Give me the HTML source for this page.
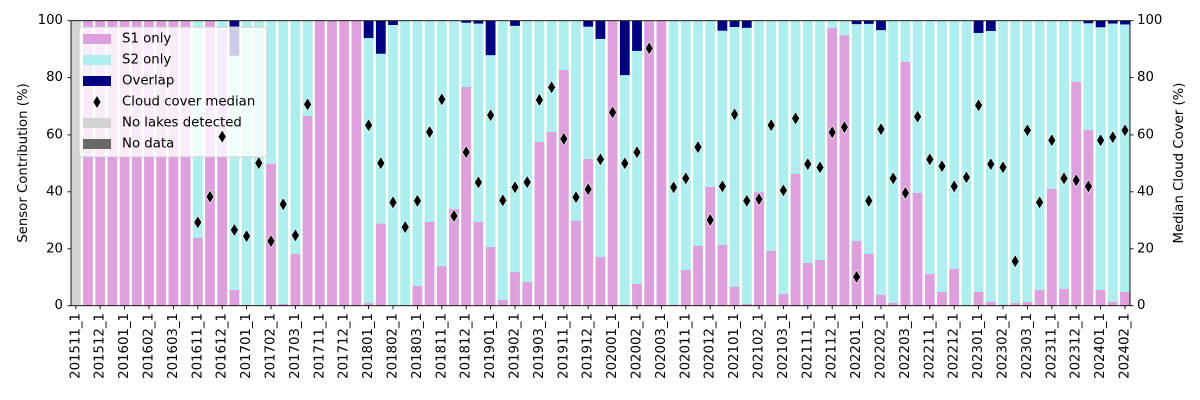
<!DOCTYPE html>
<html><head><meta charset="utf-8"><style>
html,body{margin:0;padding:0;background:#fff;}
svg{display:block;font-family:"DejaVu Sans","Liberation Sans",sans-serif;}
</style></head><body>
<svg width="1200" height="400" viewBox="0 0 1200 400" xmlns="http://www.w3.org/2000/svg">
<defs><path id="d" d="M0,-6.5L4,0L0,6.5L-4,0Z" fill="#000" stroke="#fff" stroke-width="0.6"/></defs>
<g transform="translate(0,305.7) scale(1,-2.847)">
<rect x="70.92" y="0" width="9.76" height="100" fill="#d3d3d3"/>
<g fill="#dda0dd">
<rect x="83.12" y="0" width="9.76" height="100"/><rect x="95.32" y="0" width="9.76" height="100"/><rect x="107.52" y="0" width="9.76" height="100"/><rect x="119.72" y="0" width="9.76" height="100"/><rect x="131.92" y="0" width="9.76" height="100"/><rect x="144.12" y="0" width="9.76" height="100"/><rect x="156.32" y="0" width="9.76" height="100"/><rect x="168.52" y="0" width="9.76" height="100"/><rect x="180.72" y="0" width="9.76" height="100"/><rect x="205.12" y="0" width="9.76" height="100"/><rect x="314.92" y="0" width="9.76" height="100"/><rect x="327.12" y="0" width="9.76" height="100"/><rect x="339.32" y="0" width="9.76" height="100"/><rect x="351.52" y="0" width="9.76" height="100"/><rect x="607.72" y="0" width="9.76" height="100"/><rect x="644.32" y="0" width="9.76" height="100"/><rect x="656.52" y="0" width="9.76" height="100"/>
</g>
<g fill="#afeeee">
<rect x="192.92" y="0" width="9.76" height="100"/><rect x="217.32" y="0" width="9.76" height="100"/><rect x="229.52" y="0" width="9.76" height="100"/><rect x="241.72" y="0" width="9.76" height="100"/><rect x="253.92" y="0" width="9.76" height="100"/><rect x="266.12" y="0" width="9.76" height="100"/><rect x="278.32" y="0" width="9.76" height="100"/><rect x="290.52" y="0" width="9.76" height="100"/><rect x="302.72" y="0" width="9.76" height="100"/>
<rect x="363.72" y="0" width="9.76" height="100"/><rect x="375.92" y="0" width="9.76" height="100"/><rect x="388.12" y="0" width="9.76" height="100"/><rect x="400.32" y="0" width="9.76" height="100"/><rect x="412.52" y="0" width="9.76" height="100"/><rect x="424.72" y="0" width="9.76" height="100"/><rect x="436.92" y="0" width="9.76" height="100"/><rect x="449.12" y="0" width="9.76" height="100"/><rect x="461.32" y="0" width="9.76" height="100"/><rect x="473.52" y="0" width="9.76" height="100"/><rect x="485.72" y="0" width="9.76" height="100"/><rect x="497.92" y="0" width="9.76" height="100"/><rect x="510.12" y="0" width="9.76" height="100"/><rect x="522.32" y="0" width="9.76" height="100"/><rect x="534.52" y="0" width="9.76" height="100"/><rect x="546.72" y="0" width="9.76" height="100"/><rect x="558.92" y="0" width="9.76" height="100"/><rect x="571.12" y="0" width="9.76" height="100"/><rect x="583.32" y="0" width="9.76" height="100"/><rect x="595.52" y="0" width="9.76" height="100"/><rect x="619.92" y="0" width="9.76" height="100"/><rect x="632.12" y="0" width="9.76" height="100"/>
<rect x="668.72" y="0" width="9.76" height="100"/><rect x="680.92" y="0" width="9.76" height="100"/><rect x="693.12" y="0" width="9.76" height="100"/><rect x="705.32" y="0" width="9.76" height="100"/><rect x="717.52" y="0" width="9.76" height="100"/><rect x="729.72" y="0" width="9.76" height="100"/><rect x="741.92" y="0" width="9.76" height="100"/><rect x="754.12" y="0" width="9.76" height="100"/><rect x="766.32" y="0" width="9.76" height="100"/><rect x="778.52" y="0" width="9.76" height="100"/><rect x="790.72" y="0" width="9.76" height="100"/><rect x="802.92" y="0" width="9.76" height="100"/><rect x="815.12" y="0" width="9.76" height="100"/><rect x="827.32" y="0" width="9.76" height="100"/><rect x="839.52" y="0" width="9.76" height="100"/><rect x="851.72" y="0" width="9.76" height="100"/><rect x="863.92" y="0" width="9.76" height="100"/><rect x="876.12" y="0" width="9.76" height="100"/><rect x="888.32" y="0" width="9.76" height="100"/><rect x="900.52" y="0" width="9.76" height="100"/><rect x="912.72" y="0" width="9.76" height="100"/><rect x="924.92" y="0" width="9.76" height="100"/><rect x="937.12" y="0" width="9.76" height="100"/><rect x="949.32" y="0" width="9.76" height="100"/><rect x="961.52" y="0" width="9.76" height="100"/><rect x="973.72" y="0" width="9.76" height="100"/><rect x="985.92" y="0" width="9.76" height="100"/><rect x="998.12" y="0" width="9.76" height="100"/><rect x="1010.32" y="0" width="9.76" height="100"/><rect x="1022.52" y="0" width="9.76" height="100"/><rect x="1034.72" y="0" width="9.76" height="100"/><rect x="1046.92" y="0" width="9.76" height="100"/><rect x="1059.12" y="0" width="9.76" height="100"/><rect x="1071.32" y="0" width="9.76" height="100"/><rect x="1083.52" y="0" width="9.76" height="100"/><rect x="1095.72" y="0" width="9.76" height="100"/><rect x="1107.92" y="0" width="9.76" height="100"/><rect x="1120.12" y="0" width="9.76" height="100"/>
</g>
<g fill="#dda0dd">
<rect x="192.92" y="0" width="9.76" height="23.8"/><rect x="217.32" y="0" width="9.76" height="97"/><rect x="229.52" y="0" width="9.76" height="5.5"/><rect x="241.72" y="0" width="9.76" height="0.3"/><rect x="266.12" y="0" width="9.76" height="49.8"/><rect x="278.32" y="0" width="9.76" height="0.6"/><rect x="290.52" y="0" width="9.76" height="18.2"/><rect x="302.72" y="0" width="9.76" height="66.6"/>
<rect x="363.72" y="0" width="9.76" height="0.9"/><rect x="375.92" y="0" width="9.76" height="28.8"/><rect x="400.32" y="0" width="9.76" height="0.2"/><rect x="412.52" y="0" width="9.76" height="6.9"/><rect x="424.72" y="0" width="9.76" height="29.4"/><rect x="436.92" y="0" width="9.76" height="13.9"/><rect x="449.12" y="0" width="9.76" height="34"/><rect x="461.32" y="0" width="9.76" height="76.8"/><rect x="473.52" y="0" width="9.76" height="29.4"/><rect x="485.72" y="0" width="9.76" height="20.6"/><rect x="497.92" y="0" width="9.76" height="2"/><rect x="510.12" y="0" width="9.76" height="11.8"/><rect x="522.32" y="0" width="9.76" height="8.3"/><rect x="534.52" y="0" width="9.76" height="57.5"/><rect x="546.72" y="0" width="9.76" height="61"/><rect x="558.92" y="0" width="9.76" height="82.8"/><rect x="571.12" y="0" width="9.76" height="29.8"/><rect x="583.32" y="0" width="9.76" height="51.5"/><rect x="595.52" y="0" width="9.76" height="17.1"/><rect x="619.92" y="0" width="9.76" height="0.3"/><rect x="632.12" y="0" width="9.76" height="7.6"/>
<rect x="668.72" y="0" width="9.76" height="0.3"/><rect x="680.92" y="0" width="9.76" height="12.5"/><rect x="693.12" y="0" width="9.76" height="21"/><rect x="705.32" y="0" width="9.76" height="41.7"/><rect x="717.52" y="0" width="9.76" height="21.3"/><rect x="729.72" y="0" width="9.76" height="6.6"/><rect x="741.92" y="0" width="9.76" height="0.6"/><rect x="754.12" y="0" width="9.76" height="39.9"/><rect x="766.32" y="0" width="9.76" height="19.2"/><rect x="778.52" y="0" width="9.76" height="4.1"/><rect x="790.72" y="0" width="9.76" height="46.3"/><rect x="802.92" y="0" width="9.76" height="15"/><rect x="815.12" y="0" width="9.76" height="16"/><rect x="827.32" y="0" width="9.76" height="97.5"/><rect x="839.52" y="0" width="9.76" height="95"/><rect x="851.72" y="0" width="9.76" height="22.7"/><rect x="863.92" y="0" width="9.76" height="18.2"/><rect x="876.12" y="0" width="9.76" height="3.8"/><rect x="888.32" y="0" width="9.76" height="1"/><rect x="900.52" y="0" width="9.76" height="85.6"/><rect x="912.72" y="0" width="9.76" height="39.6"/><rect x="924.92" y="0" width="9.76" height="11.1"/><rect x="937.12" y="0" width="9.76" height="4.8"/><rect x="949.32" y="0" width="9.76" height="12.9"/><rect x="973.72" y="0" width="9.76" height="4.8"/><rect x="985.92" y="0" width="9.76" height="1.3"/><rect x="998.12" y="0" width="9.76" height="0.3"/><rect x="1010.32" y="0" width="9.76" height="0.9"/><rect x="1022.52" y="0" width="9.76" height="1.3"/><rect x="1034.72" y="0" width="9.76" height="5.5"/><rect x="1046.92" y="0" width="9.76" height="41"/><rect x="1059.12" y="0" width="9.76" height="5.9"/><rect x="1071.32" y="0" width="9.76" height="78.6"/><rect x="1083.52" y="0" width="9.76" height="61.7"/><rect x="1095.72" y="0" width="9.76" height="5.5"/><rect x="1107.92" y="0" width="9.76" height="1.3"/><rect x="1120.12" y="0" width="9.76" height="4.8"/>
</g>
<g fill="#000080">
<rect x="229.52" y="87.8" width="9.76" height="12.2"/><rect x="363.72" y="94" width="9.76" height="6"/><rect x="375.92" y="88.5" width="9.76" height="11.5"/><rect x="388.12" y="98.6" width="9.76" height="1.4"/><rect x="461.32" y="99.4" width="9.76" height="0.6"/><rect x="473.52" y="99.1" width="9.76" height="0.9"/><rect x="485.72" y="88" width="9.76" height="12"/><rect x="510.12" y="98.3" width="9.76" height="1.7"/><rect x="583.32" y="98" width="9.76" height="2"/><rect x="595.52" y="93.7" width="9.76" height="6.3"/><rect x="619.92" y="81" width="9.76" height="19"/><rect x="632.12" y="89.5" width="9.76" height="10.5"/><rect x="717.52" y="96.6" width="9.76" height="3.4"/><rect x="729.72" y="97.9" width="9.76" height="2.1"/><rect x="741.92" y="97.6" width="9.76" height="2.4"/><rect x="851.72" y="98.9" width="9.76" height="1.1"/><rect x="863.92" y="99" width="9.76" height="1"/><rect x="876.12" y="96.8" width="9.76" height="3.2"/><rect x="973.72" y="95.8" width="9.76" height="4.2"/><rect x="985.92" y="96.5" width="9.76" height="3.5"/><rect x="1083.52" y="99.2" width="9.76" height="0.8"/><rect x="1095.72" y="97.8" width="9.76" height="2.2"/><rect x="1107.92" y="99.1" width="9.76" height="0.9"/><rect x="1120.12" y="98.8" width="9.76" height="1.2"/>
</g>
</g>
<!-- legend -->
<rect x="79" y="27" width="188" height="130" rx="3" fill="#fff" fill-opacity="0.8" stroke="#cccccc" stroke-width="1"/>
<rect x="83" y="34" width="28" height="10" fill="#dda0dd"/>
<rect x="83" y="55" width="28" height="10" fill="#afeeee"/>
<rect x="83" y="76" width="28" height="10" fill="#000080"/>
<use href="#d" x="97" y="102"/>
<rect x="83" y="118" width="28" height="10" fill="#d3d3d3"/>
<rect x="83" y="139" width="28" height="10" fill="#696969"/>
<g font-size="13.3" fill="#000" dominant-baseline="central">
<text x="122" y="39">S1 only</text><text x="122" y="60">S2 only</text><text x="122" y="81">Overlap</text><text x="122" y="102">Cloud cover median</text><text x="122" y="123">No lakes detected</text><text x="122" y="144">No data</text>
</g>
<!-- markers -->
<g>
<use href="#d" x="197.8" y="222.3"/><use href="#d" x="210" y="196.7"/><use href="#d" x="222.2" y="136.6"/><use href="#d" x="234.4" y="230"/><use href="#d" x="246.6" y="236.2"/><use href="#d" x="258.8" y="163.1"/><use href="#d" x="271" y="241.1"/><use href="#d" x="283.2" y="204.3"/><use href="#d" x="295.4" y="235.4"/><use href="#d" x="307.6" y="104.4"/>
<use href="#d" x="368.6" y="125.2"/><use href="#d" x="380.8" y="163.1"/><use href="#d" x="393" y="202.4"/><use href="#d" x="405.2" y="227.1"/><use href="#d" x="417.4" y="200.9"/><use href="#d" x="429.6" y="132"/><use href="#d" x="441.8" y="99.3"/><use href="#d" x="454" y="216"/><use href="#d" x="466.2" y="152.2"/><use href="#d" x="478.4" y="182.4"/><use href="#d" x="490.6" y="115.2"/><use href="#d" x="502.8" y="200.4"/><use href="#d" x="515" y="187.3"/><use href="#d" x="527.2" y="182.1"/><use href="#d" x="539.4" y="99.9"/><use href="#d" x="551.6" y="87.3"/><use href="#d" x="563.8" y="138.9"/><use href="#d" x="576" y="197.2"/><use href="#d" x="588.2" y="189.3"/><use href="#d" x="600.4" y="159.4"/><use href="#d" x="612.6" y="112.4"/><use href="#d" x="624.8" y="163.3"/><use href="#d" x="637" y="152.2"/><use href="#d" x="649.2" y="48.3"/>
<use href="#d" x="673.6" y="187.3"/><use href="#d" x="685.8" y="178.4"/><use href="#d" x="698" y="147.1"/><use href="#d" x="710.2" y="220"/><use href="#d" x="722.4" y="186.4"/><use href="#d" x="734.6" y="114.4"/><use href="#d" x="746.8" y="200.9"/><use href="#d" x="759" y="199.2"/><use href="#d" x="771.2" y="125.2"/><use href="#d" x="783.4" y="190.4"/><use href="#d" x="795.6" y="118.4"/><use href="#d" x="807.8" y="164.2"/><use href="#d" x="820" y="167.3"/><use href="#d" x="832.2" y="132.3"/><use href="#d" x="844.4" y="127.2"/><use href="#d" x="856.6" y="276.9"/><use href="#d" x="868.8" y="200.9"/><use href="#d" x="881" y="129.2"/><use href="#d" x="893.2" y="178.4"/><use href="#d" x="905.4" y="193"/><use href="#d" x="917.6" y="116.7"/><use href="#d" x="929.8" y="159.4"/><use href="#d" x="942" y="166.2"/><use href="#d" x="954.2" y="186.4"/><use href="#d" x="966.4" y="177.3"/><use href="#d" x="978.6" y="105.3"/><use href="#d" x="990.8" y="164.2"/><use href="#d" x="1003" y="167.3"/><use href="#d" x="1015.2" y="261.3"/><use href="#d" x="1027.4" y="130.3"/><use href="#d" x="1039.6" y="202.4"/><use href="#d" x="1051.8" y="140.3"/><use href="#d" x="1064" y="178.4"/><use href="#d" x="1076.2" y="180.4"/><use href="#d" x="1088.4" y="186.4"/><use href="#d" x="1100.6" y="140.3"/><use href="#d" x="1112.8" y="137.2"/><use href="#d" x="1125" y="130.3"/>
</g>
<!-- axes frame -->
<rect x="71" y="20.7" width="1059" height="285" fill="none" stroke="#000" stroke-width="0.9"/>
<!-- y ticks -->
<g stroke="#000" stroke-width="0.9">
<line x1="67.5" y1="305.7" x2="71" y2="305.7"/><line x1="67.5" y1="248.8" x2="71" y2="248.8"/><line x1="67.5" y1="191.8" x2="71" y2="191.8"/><line x1="67.5" y1="134.9" x2="71" y2="134.9"/><line x1="67.5" y1="77.6" x2="71" y2="77.6"/><line x1="67.5" y1="20.7" x2="71" y2="20.7"/>
<line x1="1130" y1="305.7" x2="1133.5" y2="305.7"/><line x1="1130" y1="248.8" x2="1133.5" y2="248.8"/><line x1="1130" y1="191.8" x2="1133.5" y2="191.8"/><line x1="1130" y1="134.9" x2="1133.5" y2="134.9"/><line x1="1130" y1="77.6" x2="1133.5" y2="77.6"/><line x1="1130" y1="20.7" x2="1133.5" y2="20.7"/>
</g>
<g font-size="13.3" fill="#000" dominant-baseline="central" text-anchor="end">
<text x="63" y="305.7">0</text><text x="63" y="248.8">20</text><text x="63" y="191.8">40</text><text x="63" y="134.9">60</text><text x="63" y="77.6">80</text><text x="63" y="20.7">100</text>
</g>
<g font-size="13.3" fill="#000" dominant-baseline="central" text-anchor="start">
<text x="1137" y="305.7">0</text><text x="1137" y="248.8">20</text><text x="1137" y="191.8">40</text><text x="1137" y="134.9">60</text><text x="1137" y="77.6">80</text><text x="1137" y="20.7">100</text>
</g>
<text font-size="13.3" text-anchor="middle" transform="translate(27,163) rotate(-90)">Sensor Contribution (%)</text>
<text font-size="13.3" text-anchor="middle" transform="translate(1183,163) rotate(-90)">Median Cloud Cover (%)</text>
<!-- x ticks -->
<g stroke="#000" stroke-width="0.9">
<line x1="75.8" y1="305.7" x2="75.8" y2="309.2"/><line x1="100.2" y1="305.7" x2="100.2" y2="309.2"/><line x1="124.6" y1="305.7" x2="124.6" y2="309.2"/><line x1="149" y1="305.7" x2="149" y2="309.2"/><line x1="173.4" y1="305.7" x2="173.4" y2="309.2"/><line x1="197.8" y1="305.7" x2="197.8" y2="309.2"/><line x1="222.2" y1="305.7" x2="222.2" y2="309.2"/><line x1="246.6" y1="305.7" x2="246.6" y2="309.2"/><line x1="271" y1="305.7" x2="271" y2="309.2"/><line x1="295.4" y1="305.7" x2="295.4" y2="309.2"/><line x1="319.8" y1="305.7" x2="319.8" y2="309.2"/><line x1="344.2" y1="305.7" x2="344.2" y2="309.2"/><line x1="368.6" y1="305.7" x2="368.6" y2="309.2"/><line x1="393" y1="305.7" x2="393" y2="309.2"/><line x1="417.4" y1="305.7" x2="417.4" y2="309.2"/><line x1="441.8" y1="305.7" x2="441.8" y2="309.2"/><line x1="466.2" y1="305.7" x2="466.2" y2="309.2"/><line x1="490.6" y1="305.7" x2="490.6" y2="309.2"/><line x1="515" y1="305.7" x2="515" y2="309.2"/><line x1="539.4" y1="305.7" x2="539.4" y2="309.2"/><line x1="563.8" y1="305.7" x2="563.8" y2="309.2"/><line x1="588.2" y1="305.7" x2="588.2" y2="309.2"/><line x1="612.6" y1="305.7" x2="612.6" y2="309.2"/><line x1="637" y1="305.7" x2="637" y2="309.2"/><line x1="661.4" y1="305.7" x2="661.4" y2="309.2"/><line x1="685.8" y1="305.7" x2="685.8" y2="309.2"/><line x1="710.2" y1="305.7" x2="710.2" y2="309.2"/><line x1="734.6" y1="305.7" x2="734.6" y2="309.2"/><line x1="759" y1="305.7" x2="759" y2="309.2"/><line x1="783.4" y1="305.7" x2="783.4" y2="309.2"/><line x1="807.8" y1="305.7" x2="807.8" y2="309.2"/><line x1="832.2" y1="305.7" x2="832.2" y2="309.2"/><line x1="856.6" y1="305.7" x2="856.6" y2="309.2"/><line x1="881" y1="305.7" x2="881" y2="309.2"/><line x1="905.4" y1="305.7" x2="905.4" y2="309.2"/><line x1="929.8" y1="305.7" x2="929.8" y2="309.2"/><line x1="954.2" y1="305.7" x2="954.2" y2="309.2"/><line x1="978.6" y1="305.7" x2="978.6" y2="309.2"/><line x1="1003" y1="305.7" x2="1003" y2="309.2"/><line x1="1027.4" y1="305.7" x2="1027.4" y2="309.2"/><line x1="1051.8" y1="305.7" x2="1051.8" y2="309.2"/><line x1="1076.2" y1="305.7" x2="1076.2" y2="309.2"/><line x1="1100.6" y1="305.7" x2="1100.6" y2="309.2"/><line x1="1125" y1="305.7" x2="1125" y2="309.2"/>
</g>
<g font-size="13.3" fill="#000" text-anchor="end" dominant-baseline="central">
<text transform="translate(75.8,313) rotate(-90)">201511_1</text>
<text transform="translate(100.2,313) rotate(-90)">201512_1</text>
<text transform="translate(124.6,313) rotate(-90)">201601_1</text>
<text transform="translate(149,313) rotate(-90)">201602_1</text>
<text transform="translate(173.4,313) rotate(-90)">201603_1</text>
<text transform="translate(197.8,313) rotate(-90)">201611_1</text>
<text transform="translate(222.2,313) rotate(-90)">201612_1</text>
<text transform="translate(246.6,313) rotate(-90)">201701_1</text>
<text transform="translate(271,313) rotate(-90)">201702_1</text>
<text transform="translate(295.4,313) rotate(-90)">201703_1</text>
<text transform="translate(319.8,313) rotate(-90)">201711_1</text>
<text transform="translate(344.2,313) rotate(-90)">201712_1</text>
<text transform="translate(368.6,313) rotate(-90)">201801_1</text>
<text transform="translate(393,313) rotate(-90)">201802_1</text>
<text transform="translate(417.4,313) rotate(-90)">201803_1</text>
<text transform="translate(441.8,313) rotate(-90)">201811_1</text>
<text transform="translate(466.2,313) rotate(-90)">201812_1</text>
<text transform="translate(490.6,313) rotate(-90)">201901_1</text>
<text transform="translate(515,313) rotate(-90)">201902_1</text>
<text transform="translate(539.4,313) rotate(-90)">201903_1</text>
<text transform="translate(563.8,313) rotate(-90)">201911_1</text>
<text transform="translate(588.2,313) rotate(-90)">201912_1</text>
<text transform="translate(612.6,313) rotate(-90)">202001_1</text>
<text transform="translate(637,313) rotate(-90)">202002_1</text>
<text transform="translate(661.4,313) rotate(-90)">202003_1</text>
<text transform="translate(685.8,313) rotate(-90)">202011_1</text>
<text transform="translate(710.2,313) rotate(-90)">202012_1</text>
<text transform="translate(734.6,313) rotate(-90)">202101_1</text>
<text transform="translate(759,313) rotate(-90)">202102_1</text>
<text transform="translate(783.4,313) rotate(-90)">202103_1</text>
<text transform="translate(807.8,313) rotate(-90)">202111_1</text>
<text transform="translate(832.2,313) rotate(-90)">202112_1</text>
<text transform="translate(856.6,313) rotate(-90)">202201_1</text>
<text transform="translate(881,313) rotate(-90)">202202_1</text>
<text transform="translate(905.4,313) rotate(-90)">202203_1</text>
<text transform="translate(929.8,313) rotate(-90)">202211_1</text>
<text transform="translate(954.2,313) rotate(-90)">202212_1</text>
<text transform="translate(978.6,313) rotate(-90)">202301_1</text>
<text transform="translate(1003,313) rotate(-90)">202302_1</text>
<text transform="translate(1027.4,313) rotate(-90)">202303_1</text>
<text transform="translate(1051.8,313) rotate(-90)">202311_1</text>
<text transform="translate(1076.2,313) rotate(-90)">202312_1</text>
<text transform="translate(1100.6,313) rotate(-90)">202401_1</text>
<text transform="translate(1125,313) rotate(-90)">202402_1</text>
</g>
</svg>
</body></html>
